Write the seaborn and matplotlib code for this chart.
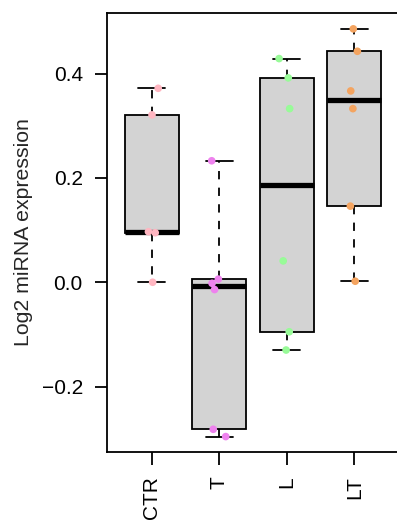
import numpy as np
import pandas as pd
import matplotlib
matplotlib.use("Agg")
import matplotlib.pyplot as plt
import matplotlib.cbook as cbook
import seaborn as sns

# ---------------- data ----------------
groups = ["CTR", "T", "L", "LT"]
ctr_values = [0.000, 0.095, 0.097, 0.321, 0.372]
t_values = [-0.296, -0.282, -0.014, -0.002, 0.006, 0.233]
l_values = [-0.130, -0.095, 0.041, 0.333, 0.392, 0.429]
lt_values = [0.002, 0.146, 0.333, 0.367, 0.443, 0.486]
point_colors = ["#FFB6C1", "#EE82EE", "#98FB98", "#F4A460"]
y_ticks = [-0.2, 0.0, 0.2, 0.4]
y_tick_labels = ["\u22120.2", "0.0", "0.2", "0.4"]
y_label = "Log2 miRNA expression"

df = pd.DataFrame({
    "group": (["CTR"] * len(ctr_values) + ["T"] * len(t_values)
              + ["L"] * len(l_values) + ["LT"] * len(lt_values)),
    "value": ctr_values + t_values + l_values + lt_values,
})

# ---------------- R-style (Tukey hinge) box statistics ----------------
_orig_stats = cbook.boxplot_stats


def _fivenum(x):
    x = np.sort(np.asarray(x, float))
    n = len(x)
    n4 = np.floor((n + 3) / 2) / 2
    d = np.array([1, n4, (n + 1) / 2, n + 1 - n4, n]) - 1
    return 0.5 * (x[np.floor(d).astype(int)] + x[np.ceil(d).astype(int)])


def _tukey_stats(X, *args, **kwargs):
    stats = _orig_stats(X, *args, **kwargs)
    whis = kwargs.get("whis", 1.5)
    if isinstance(X, (list, tuple)) and len(X) > 0 and np.ndim(X[0]) >= 1:
        datasets = [np.asarray(v, float) for v in X]
    else:
        datasets = [np.asarray(X, float).ravel()]
    for st, x in zip(stats, datasets):
        if len(x) == 0:
            continue
        f = _fivenum(x)
        q1, med, q3 = f[1], f[2], f[3]
        iqr = q3 - q1
        lo, hi = q1 - whis * iqr, q3 + whis * iqr
        st["q1"], st["med"], st["q3"], st["iqr"] = q1, med, q3, iqr
        st["whislo"] = np.min(x[x >= lo])
        st["whishi"] = np.max(x[x <= hi])
        st["fliers"] = x[(x < st["whislo"]) | (x > st["whishi"])]
    return stats


matplotlib.cbook.boxplot_stats = _tukey_stats

# ---------------- style ----------------
sns.set_style("white")
plt.rcParams["font.family"] = ["Liberation Sans", "DejaVu Sans"]

fig = plt.figure(figsize=(3.97, 5.22), dpi=100)
W, H = 397, 522
left, right, top, bottom = 107.3, 398.8, 12.7, 451.7
ax = fig.add_axes([left / W, 1 - bottom / H, (right - left) / W, (bottom - top) / H])

lw = 1.3
sns.boxplot(
    data=df, x="group", y="value", order=groups,
    color="#D3D3D3", saturation=1, linecolor="black", linewidth=lw,
    width=0.8, showfliers=False, ax=ax,
    whiskerprops=dict(linestyle=(0, (4.6, 4.6)), linewidth=lw, color="black"),
    capprops=dict(linewidth=lw, color="black"),
    medianprops=dict(linewidth=3.8, color="black", solid_capstyle="butt"),
    boxprops=dict(edgecolor="black", linewidth=lw),
)

np.random.seed(3)
sns.stripplot(
    data=df, x="group", y="value", order=groups, hue="group", hue_order=groups,
    palette=point_colors, size=5.5, jitter=0.12, linewidth=0, legend=False,
    zorder=3, ax=ax,
)

ax.set_xlim(-0.66, 3.66)
ax.set_ylim(-0.325, 0.517)
ax.set_yticks(y_ticks)
ax.set_yticklabels(y_tick_labels)
ax.set_xticks(range(len(groups)))
ax.set_xticklabels(groups, rotation=90)
ax.set_xlabel("")
ax.set_ylabel(y_label, fontsize=15.3)
ax.yaxis.set_label_coords((33 - left) / (right - left), 0.5)

for s in ["left", "top", "bottom"]:
    ax.spines[s].set_visible(True)
    ax.spines[s].set_color("black")
    ax.spines[s].set_linewidth(1.3)
ax.spines["right"].set_visible(False)
ax.tick_params(axis="both", direction="out", length=9, width=1.3,
               pad=8.6, labelsize=15, color="black", labelcolor="black",
               bottom=True, left=True)

fig.savefig("out.png", dpi=100)
